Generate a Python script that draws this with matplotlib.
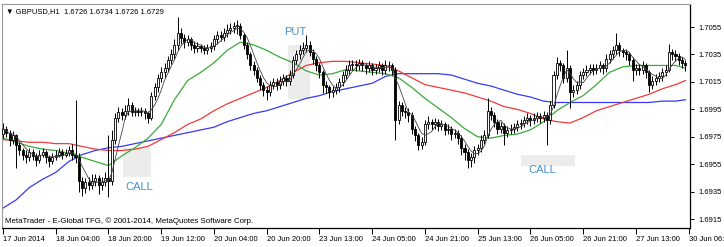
import matplotlib
matplotlib.use("Agg")
import matplotlib.pyplot as plt
import numpy as np
import pandas as pd
from matplotlib.patches import Rectangle

opens = [
    1.6977, 1.6981, 1.6978, 1.6973, 1.6976, 1.6969, 1.6965, 1.6962, 1.6960, 1.6964,
    1.6961, 1.6958, 1.6962, 1.6964, 1.6960, 1.6957, 1.6960, 1.6962, 1.6964, 1.6962,
    1.6963, 1.6965, 1.6962, 1.6960, 1.6943, 1.6938, 1.6942, 1.6940, 1.6943, 1.6945,
    1.6940, 1.6942, 1.6945, 1.6943, 1.6973, 1.6989, 1.6993, 1.6991, 1.6994, 1.6998,
    1.6993, 1.6994, 1.6993, 1.6994, 1.6992, 1.6989, 1.7005, 1.7011, 1.7018, 1.7022,
    1.7025, 1.7031, 1.7035, 1.7042, 1.7051, 1.7047, 1.7044, 1.7046, 1.7042, 1.7040,
    1.7041, 1.7040, 1.7038, 1.7040, 1.7041, 1.7046, 1.7049, 1.7048, 1.7051, 1.7053,
    1.7054, 1.7056, 1.7056, 1.7049, 1.7042, 1.7035, 1.7027, 1.7024, 1.7018, 1.7013,
    1.7009, 1.7008, 1.7013, 1.7015, 1.7013, 1.7016, 1.7018, 1.7016, 1.7020, 1.7031,
    1.7035, 1.7038, 1.7040, 1.7042, 1.7037, 1.7032, 1.7027, 1.7022, 1.7013, 1.7011,
    1.7008, 1.7009, 1.7011, 1.7015, 1.7020, 1.7024, 1.7027, 1.7028, 1.7027, 1.7029,
    1.7027, 1.7025, 1.7027, 1.7024, 1.7025, 1.7027, 1.7024, 1.7027, 1.7027, 1.7024,
    1.6987, 1.6998, 1.6994, 1.6993, 1.6991, 1.6981, 1.6976, 1.6969, 1.6971, 1.6984,
    1.6986, 1.6984, 1.6986, 1.6983, 1.6984, 1.6980, 1.6981, 1.6977, 1.6978, 1.6974,
    1.6967, 1.6964, 1.6958, 1.6960, 1.6965, 1.6967, 1.6973, 1.6976, 1.6994, 1.6991,
    1.6986, 1.6981, 1.6983, 1.6978, 1.6980, 1.6981, 1.6982, 1.6984, 1.6985, 1.6987,
    1.6989, 1.6987, 1.6989, 1.6990, 1.6989, 1.6991, 1.6987, 1.6998, 1.7020, 1.7029,
    1.7027, 1.7018, 1.7025, 1.7008, 1.7009, 1.7013, 1.7020, 1.7022, 1.7024, 1.7025,
    1.7024, 1.7025, 1.7027, 1.7025, 1.7032, 1.7035, 1.7038, 1.7042, 1.7038, 1.7037,
    1.7035, 1.7031, 1.7024, 1.7025, 1.7024, 1.7027, 1.7022, 1.7013, 1.7016, 1.7018,
    1.7019, 1.7022, 1.7024, 1.7037, 1.7035, 1.7034, 1.7031, 1.7029,
]
highs = [
    1.6985, 1.6983, 1.6980, 1.6979, 1.6977, 1.6971, 1.6967, 1.6965, 1.6967, 1.6966,
    1.6963, 1.6965, 1.6967, 1.6965, 1.6962, 1.6963, 1.6965, 1.6967, 1.6966, 1.6966,
    1.6968, 1.6970, 1.7002, 1.6963, 1.6946, 1.6945, 1.6946, 1.6948, 1.6948, 1.6947,
    1.6946, 1.6949, 1.6976, 1.6980, 1.6992, 1.6997, 1.6996, 1.6998, 1.7003, 1.7000,
    1.6997, 1.6996, 1.6997, 1.6996, 1.6994, 1.7008, 1.7014, 1.7021, 1.7026, 1.7029,
    1.7034, 1.7039, 1.7046, 1.7062, 1.7054, 1.7050, 1.7049, 1.7048, 1.7045, 1.7044,
    1.7043, 1.7042, 1.7043, 1.7044, 1.7049, 1.7052, 1.7052, 1.7054, 1.7057, 1.7058,
    1.7059, 1.7060, 1.7058, 1.7051, 1.7044, 1.7037, 1.7030, 1.7026, 1.7020, 1.7015,
    1.7012, 1.7016, 1.7018, 1.7018, 1.7019, 1.7021, 1.7020, 1.7024, 1.7034, 1.7038,
    1.7042, 1.7044, 1.7049, 1.7045, 1.7039, 1.7034, 1.7029, 1.7024, 1.7016, 1.7013,
    1.7012, 1.7014, 1.7018, 1.7023, 1.7027, 1.7031, 1.7031, 1.7031, 1.7032, 1.7031,
    1.7029, 1.7030, 1.7029, 1.7028, 1.7030, 1.7029, 1.7031, 1.7030, 1.7029, 1.7026,
    1.7001, 1.7000, 1.6997, 1.6996, 1.6993, 1.6983, 1.6978, 1.6975, 1.6987, 1.6990,
    1.6988, 1.6989, 1.6988, 1.6987, 1.6986, 1.6984, 1.6983, 1.6981, 1.6980, 1.6976,
    1.6970, 1.6966, 1.6963, 1.6968, 1.6970, 1.6976, 1.6980, 1.7003, 1.6997, 1.6993,
    1.6988, 1.6986, 1.6985, 1.6983, 1.6984, 1.6985, 1.6987, 1.6988, 1.6990, 1.6992,
    1.6991, 1.6992, 1.6993, 1.6992, 1.6994, 1.6993, 1.7001, 1.7023, 1.7033, 1.7031,
    1.7029, 1.7038, 1.7027, 1.7013, 1.7016, 1.7023, 1.7025, 1.7027, 1.7028, 1.7028,
    1.7028, 1.7030, 1.7029, 1.7035, 1.7038, 1.7041, 1.7051, 1.7044, 1.7040, 1.7039,
    1.7037, 1.7033, 1.7028, 1.7028, 1.7030, 1.7029, 1.7024, 1.7019, 1.7021, 1.7022,
    1.7025, 1.7027, 1.7043, 1.7039, 1.7038, 1.7036, 1.7033, 1.7031,
]
lows = [
    1.6974, 1.6975, 1.6968, 1.6970, 1.6952, 1.6962, 1.6958, 1.6956, 1.6957, 1.6958,
    1.6954, 1.6956, 1.6960, 1.6956, 1.6953, 1.6955, 1.6958, 1.6960, 1.6959, 1.6960,
    1.6961, 1.6958, 1.6956, 1.6935, 1.6932, 1.6934, 1.6936, 1.6937, 1.6939, 1.6933,
    1.6936, 1.6939, 1.6931, 1.6940, 1.6970, 1.6986, 1.6987, 1.6988, 1.6991, 1.6990,
    1.6990, 1.6990, 1.6990, 1.6988, 1.6985, 1.6987, 1.7002, 1.7008, 1.7015, 1.7018,
    1.7022, 1.7028, 1.7032, 1.7038, 1.7043, 1.7040, 1.7041, 1.7038, 1.7036, 1.7037,
    1.7037, 1.7035, 1.7035, 1.7037, 1.7038, 1.7043, 1.7045, 1.7045, 1.7048, 1.7050,
    1.7051, 1.7050, 1.7046, 1.7039, 1.7032, 1.7024, 1.7020, 1.7015, 1.7009, 1.7005,
    1.7002, 1.7005, 1.7010, 1.7009, 1.7010, 1.7013, 1.7012, 1.7013, 1.7018, 1.7028,
    1.7032, 1.7035, 1.7037, 1.7034, 1.7028, 1.7023, 1.7018, 1.7007, 1.7007, 1.7003,
    1.7004, 1.7006, 1.7008, 1.7012, 1.7017, 1.7021, 1.7024, 1.7023, 1.7024, 1.7023,
    1.7021, 1.7022, 1.7020, 1.7021, 1.7022, 1.7020, 1.7021, 1.7023, 1.7020, 1.6973,
    1.6984, 1.6990, 1.6989, 1.6986, 1.6977, 1.6972, 1.6965, 1.6966, 1.6969, 1.6981,
    1.6980, 1.6981, 1.6979, 1.6980, 1.6976, 1.6977, 1.6973, 1.6974, 1.6970, 1.6962,
    1.6958, 1.6952, 1.6953, 1.6956, 1.6962, 1.6964, 1.6970, 1.6974, 1.6987, 1.6982,
    1.6977, 1.6978, 1.6969, 1.6975, 1.6977, 1.6978, 1.6979, 1.6981, 1.6982, 1.6984,
    1.6983, 1.6984, 1.6986, 1.6985, 1.6986, 1.6969, 1.6984, 1.6996, 1.7017, 1.7023,
    1.7014, 1.7015, 1.6996, 1.7004, 1.7006, 1.7010, 1.7017, 1.7019, 1.7021, 1.7020,
    1.7021, 1.7022, 1.7021, 1.7022, 1.7029, 1.7032, 1.7035, 1.7034, 1.7033, 1.7031,
    1.7027, 1.7016, 1.7020, 1.7020, 1.7021, 1.7018, 1.7008, 1.7010, 1.7013, 1.7015,
    1.7016, 1.7019, 1.7022, 1.7031, 1.7030, 1.7027, 1.7025, 1.7023,
]
closes = [
    1.6981, 1.6978, 1.6973, 1.6976, 1.6969, 1.6965, 1.6962, 1.6960, 1.6964, 1.6961,
    1.6958, 1.6962, 1.6964, 1.6960, 1.6957, 1.6960, 1.6962, 1.6964, 1.6962, 1.6963,
    1.6965, 1.6962, 1.6960, 1.6943, 1.6938, 1.6942, 1.6940, 1.6943, 1.6945, 1.6940,
    1.6942, 1.6945, 1.6943, 1.6973, 1.6989, 1.6993, 1.6991, 1.6994, 1.6998, 1.6993,
    1.6994, 1.6993, 1.6994, 1.6992, 1.6989, 1.7005, 1.7011, 1.7018, 1.7022, 1.7025,
    1.7031, 1.7035, 1.7042, 1.7051, 1.7047, 1.7044, 1.7046, 1.7042, 1.7040, 1.7041,
    1.7040, 1.7038, 1.7040, 1.7041, 1.7046, 1.7049, 1.7048, 1.7051, 1.7053, 1.7054,
    1.7056, 1.7056, 1.7049, 1.7042, 1.7035, 1.7027, 1.7024, 1.7018, 1.7013, 1.7009,
    1.7008, 1.7013, 1.7015, 1.7013, 1.7016, 1.7018, 1.7016, 1.7020, 1.7031, 1.7035,
    1.7038, 1.7040, 1.7042, 1.7037, 1.7032, 1.7027, 1.7022, 1.7013, 1.7011, 1.7008,
    1.7009, 1.7011, 1.7015, 1.7020, 1.7024, 1.7027, 1.7028, 1.7027, 1.7029, 1.7027,
    1.7025, 1.7027, 1.7024, 1.7025, 1.7027, 1.7024, 1.7027, 1.7027, 1.7024, 1.6987,
    1.6998, 1.6994, 1.6993, 1.6991, 1.6981, 1.6976, 1.6969, 1.6971, 1.6984, 1.6986,
    1.6984, 1.6986, 1.6983, 1.6984, 1.6980, 1.6981, 1.6977, 1.6978, 1.6974, 1.6967,
    1.6964, 1.6958, 1.6960, 1.6965, 1.6967, 1.6973, 1.6976, 1.6994, 1.6991, 1.6986,
    1.6981, 1.6983, 1.6978, 1.6980, 1.6981, 1.6982, 1.6984, 1.6985, 1.6987, 1.6989,
    1.6987, 1.6989, 1.6990, 1.6989, 1.6991, 1.6987, 1.6998, 1.7020, 1.7029, 1.7027,
    1.7018, 1.7025, 1.7008, 1.7009, 1.7013, 1.7020, 1.7022, 1.7024, 1.7025, 1.7024,
    1.7025, 1.7027, 1.7025, 1.7032, 1.7035, 1.7038, 1.7042, 1.7038, 1.7037, 1.7035,
    1.7031, 1.7024, 1.7025, 1.7024, 1.7027, 1.7022, 1.7013, 1.7016, 1.7018, 1.7019,
    1.7022, 1.7024, 1.7037, 1.7035, 1.7034, 1.7031, 1.7029, 1.7027,
]

ma_bars = list(range(0, 208, 4)) + [207]
ma_green = [
    1.6974, 1.6971, 1.6968, 1.6966, 1.6965, 1.6963, 1.6960, 1.6957, 1.6954, 1.6961,
    1.6967, 1.6974, 1.6984, 1.7002, 1.7016, 1.7022, 1.7029, 1.7038, 1.7044, 1.7042,
    1.7038, 1.7033, 1.7029, 1.7023, 1.7020, 1.7021, 1.7024, 1.7023, 1.7022, 1.7021,
    1.7018, 1.7011, 1.7003, 1.6996, 1.6989, 1.6981, 1.6975, 1.6974, 1.6976, 1.6977,
    1.6980, 1.6986, 1.6994, 1.7000, 1.7005, 1.7013, 1.7022, 1.7026, 1.7027, 1.7027,
    1.7027, 1.7027, 1.7025]
ma_red = [
    1.6973, 1.6972, 1.6971, 1.6971, 1.6970, 1.6970, 1.6968, 1.6966, 1.6965, 1.6965,
    1.6966, 1.6968, 1.6973, 1.6978, 1.6984, 1.6988, 1.6994, 1.6999, 1.7003, 1.7007,
    1.7011, 1.7016, 1.7022, 1.7027, 1.7029, 1.7030, 1.7030, 1.7029, 1.7028, 1.7027,
    1.7023, 1.7018, 1.7013, 1.7011, 1.7009, 1.7007, 1.7004, 1.7001, 1.6997, 1.6995,
    1.6992, 1.6988, 1.6986, 1.6985, 1.6989, 1.6994, 1.6997, 1.7000, 1.7003, 1.7006,
    1.7010, 1.7013, 1.7016]
ma_blue = [
    1.6923, 1.6929, 1.6938, 1.6944, 1.6949, 1.6957, 1.6962, 1.6965, 1.6967, 1.6968,
    1.6970, 1.6972, 1.6974, 1.6976, 1.6978, 1.6980, 1.6982, 1.6986, 1.6989, 1.6992,
    1.6994, 1.6997, 1.7000, 1.7003, 1.7005, 1.7008, 1.7010, 1.7012, 1.7014, 1.7019,
    1.7021, 1.7021, 1.7021, 1.7021, 1.7020, 1.7017, 1.7014, 1.7012, 1.7009, 1.7006,
    1.7004, 1.7001, 1.7000, 1.7000, 1.7000, 1.7000, 1.7000, 1.7000, 1.7000, 1.7000,
    1.7001, 1.7001, 1.7002]

tick_bars = [0, 16, 32, 48, 64, 80, 96, 112, 128, 144, 160, 176, 192, 208]
tick_labels = ["17 Jun 2014", "18 Jun 04:00", "18 Jun 20:00", "19 Jun 12:00",
               "20 Jun 04:00", "20 Jun 20:00", "23 Jun 13:00", "24 Jun 05:00",
               "24 Jun 21:00", "25 Jun 13:00", "26 Jun 05:00", "26 Jun 21:00",
               "27 Jun 13:00", "30 Jun 06:00"]
price_ticks = [1.6915, 1.6935, 1.6955, 1.6975, 1.6995, 1.7015, 1.7035, 1.7055]

# signal annotations: (label, text bar, text price, box bar0, box bar1, box p0, box p1)
signals = [
    ("CALL", 37.0, 1.69384, 36.4, 44.8, 1.69457, 1.69668),
    ("PUT", 85.2, 1.70514, 86.4, 93.0, 1.70025, 1.70419),
    ("CALL", 159.4, 1.69508, 157.0, 173.6, 1.69537, 1.69617),
]

FONT = ["Liberation Sans", "DejaVu Sans"]
plt.rcParams["font.family"] = FONT
SMALL = 5.5

fig = plt.figure(figsize=(7.24, 2.47), dpi=100)
ax = fig.add_axes([2 / 724, 19 / 247, 688 / 724, 224 / 247])

x = np.arange(len(closes))
o = np.array(opens); h = np.array(highs); l = np.array(lows); c = np.array(closes)

for lab, tx, ty, b0, b1, p0, p1 in signals:
    ax.add_patch(Rectangle((b0, p0), b1 - b0, p1 - p0, facecolor="#ececec",
                           edgecolor="none", zorder=0))
    ax.text(tx, ty, lab, color="#4a8fc4", fontsize=8, ha="left", va="center", zorder=1)

ax.plot(ma_bars, ma_blue, color="#3a3af0", lw=0.9, zorder=2)
ax.plot(ma_bars, ma_red, color="#f03a3a", lw=0.9, zorder=2)
ax.plot(ma_bars, ma_green, color="#3aaa3a", lw=0.9, zorder=2)

ax.vlines(x, l, h, color="black", lw=0.7, zorder=3)
bull = c >= o
bottom = np.minimum(o, c)
height = np.maximum(np.abs(c - o), 0.00005)
ax.bar(x[bull], height[bull], bottom=bottom[bull], width=0.62,
       facecolor="white", edgecolor="black", linewidth=0.6, zorder=4)
ax.bar(x[~bull], height[~bull], bottom=bottom[~bull], width=0.62,
       facecolor="black", edgecolor="black", linewidth=0.6, zorder=4)

fast = pd.Series(closes).rolling(5, min_periods=1).mean()
ax.plot(x, fast, color="#444444", lw=0.6, zorder=5)

ax.set_xlim(-0.3, 208.4)
ax.set_ylim(1.69085, 1.70718)

ax.set_xticks(tick_bars)
ax.set_xticklabels(tick_labels, ha="left", fontsize=SMALL)
ax.tick_params(axis="x", direction="out", length=4, width=0.7, pad=1.5,
               colors="black")

ax.yaxis.tick_right()
ax.set_yticks(price_ticks)
ax.set_yticklabels([f"{p:.4f}" for p in price_ticks], fontsize=SMALL)
ax.tick_params(axis="y", direction="out", length=3, width=0.7, pad=3)

for side in ["top", "left"]:
    ax.spines[side].set_color("#999999")
    ax.spines[side].set_linewidth(0.8)
for side in ["right", "bottom"]:
    ax.spines[side].set_color("black")
    ax.spines[side].set_linewidth(0.9)

ax.text(0.006, 0.965, "\u25bc GBPUSD,H1  1.6726 1.6734 1.6726 1.6729",
        transform=ax.transAxes, fontsize=SMALL, ha="left", va="center",
        family=FONT)
ax.text(0.005, 0.032, "MetaTrader - E-Global TFG, \u00a9 2001-2014, MetaQuotes Software Corp.",
        transform=ax.transAxes, fontsize=5.7, ha="left", va="center")

fig.savefig("out.png", dpi=100, facecolor="white")
